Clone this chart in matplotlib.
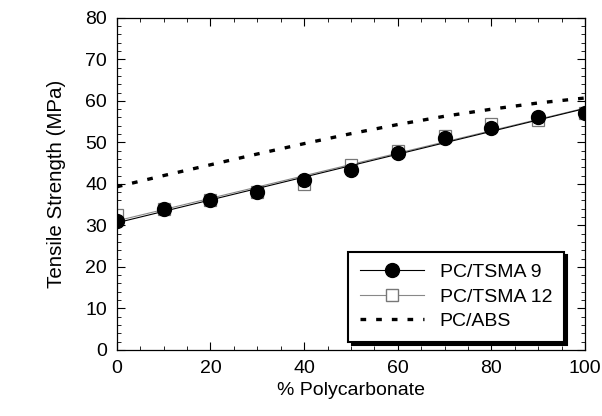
import numpy as np
import matplotlib
matplotlib.use("Agg")
import matplotlib.pyplot as plt
from matplotlib.ticker import MultipleLocator

plt.rcParams.update({
    "font.family": ["Liberation Sans", "DejaVu Sans"],
    "font.size": 14,
})

pc = [0, 10, 20, 30, 40, 50, 60, 70, 80, 90, 100]
tsma9 = [31.0, 34.0, 36.0, 38.0, 41.0, 43.3, 47.5, 51.0, 53.5, 56.0, 57.0]
tsma12 = [32.5, 34.0, 36.0, 38.0, 40.0, 44.5, 48.0, 51.5, 54.5, 55.5, 57.0]
pc_abs = [39.3, 42.0, 44.6, 47.2, 49.7, 52.1, 54.3, 56.3, 58.0, 59.5, 60.7]

x = np.array(pc)
fit9 = np.polyval(np.polyfit(x, tsma9, 1), x)
fit12 = np.polyval(np.polyfit(x, tsma12, 1), x)

dots = (0, (1.7, 3.0))

fig = plt.figure(figsize=(6.02, 4.16), dpi=100)
ax = fig.add_axes([0.194, 0.159, 0.778, 0.798])

ax.plot(x, fit12, color="#888888", lw=0.8)
ax.plot(x, tsma12, ls="none", marker="s", ms=8.5, mfc="white", mec="#777777", mew=0.9)
ax.plot(x, fit9, color="black", lw=0.8)
ax.plot(x, tsma9, ls="none", marker="o", ms=10, color="black")
ax.plot(x, pc_abs, color="black", lw=2.4, ls=dots)

# legend proxies
h1, = ax.plot([], [], color="black", lw=0.8, marker="o", ms=10)
h2, = ax.plot([], [], color="#888888", lw=0.8, marker="s", ms=8.5, mfc="white", mec="#777777")
h3, = ax.plot([], [], color="black", lw=2.4, ls=dots)
leg = ax.legend([h1, h2, h3], ["PC/TSMA 9", "PC/TSMA 12", "PC/ABS"],
                loc="lower right", bbox_to_anchor=(0.975, -0.005), fancybox=False,
                framealpha=1, edgecolor="black", fontsize=14, handlelength=3.3,
                borderpad=0.6, labelspacing=0.35,
                shadow={"ox": 2.5, "oy": -2.5, "color": "black", "alpha": 1})
leg.get_frame().set_linewidth(1.5)

ax.set_xlim(0, 100)
ax.set_ylim(0, 80)
ax.xaxis.set_major_locator(MultipleLocator(20))
ax.xaxis.set_minor_locator(MultipleLocator(5))
ax.yaxis.set_major_locator(MultipleLocator(10))
ax.yaxis.set_minor_locator(MultipleLocator(2))
ax.tick_params(which="both", direction="in", top=True, right=True, labelsize=14, pad=7)
ax.tick_params(which="major", length=6, width=0.8)
ax.tick_params(which="minor", length=3, width=0.6)
for s in ax.spines.values():
    s.set_linewidth(0.9)

ax.set_xlabel("% Polycarbonate", fontsize=14, labelpad=4)
ax.set_ylabel("Tensile Strength (MPa)", fontsize=14.8, labelpad=14)

fig.savefig("out.png", dpi=100)
